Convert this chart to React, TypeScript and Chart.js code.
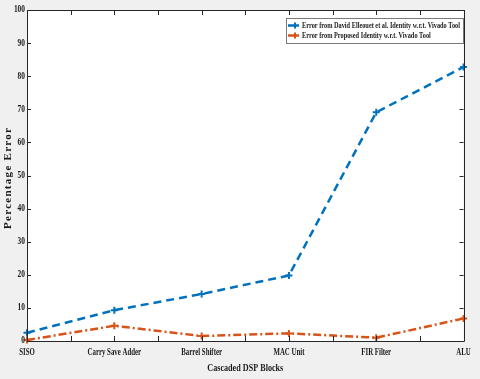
import React, { useEffect, useRef } from "react";
import { Chart, registerables } from "chart.js";

Chart.register(...registerables);

const categories = ["SISO", "Carry Save Adder", "Barrel Shifter", "MAC Unit", "FIR Filter", "ALU"];
const elleouetError = [2.5, 9.3, 14.2, 19.8, 69.1, 82.8];
const proposedError = [0.3, 4.6, 1.5, 2.3, 1.0, 6.8];
const seriesNames = [
  "Error from David Elleouet et al. Identity w.r.t. Vivado Tool",
  "Error from Proposed Identity w.r.t. Vivado Tool",
];
const xTitle = "Cascaded DSP Blocks";
const yTitle = "Percentage Error";

const BLUE = "#0072BD";
const ORANGE = "#D95319";
const FONT = "'Liberation Serif', 'Times New Roman', serif";
const TEXT = "#1a1a1a";

function condensedText(ctx: any, text: string, x: number, y: number, sx: number, align: string) {
  ctx.save();
  ctx.translate(x, y);
  ctx.scale(sx, 1);
  ctx.textAlign = align;
  ctx.textBaseline = "middle";
  ctx.fillText(text, 0, 0);
  ctx.restore();
}

const framePlugin = {
  id: "matlabFrame",
  beforeDraw(chart: any) {
    const { ctx, chartArea: a, width, height } = chart;
    ctx.save();
    ctx.fillStyle = "#f0f0f0";
    ctx.fillRect(0, 0, width, height);
    ctx.fillStyle = "#ffffff";
    ctx.fillRect(a.left, a.top, a.right - a.left, a.bottom - a.top);
    ctx.restore();
  },
  afterDraw(chart: any) {
    const { ctx, chartArea: a } = chart;
    const xs = chart.scales.x;
    const ys = chart.scales.y;
    ctx.save();
    ctx.strokeStyle = "#262626";
    ctx.lineWidth = 1;
    ctx.beginPath();
    ctx.rect(Math.round(a.left) + 0.5, Math.round(a.top) + 0.5, Math.round(a.right - a.left), Math.round(a.bottom - a.top));
    ctx.stroke();
    // inward ticks
    ctx.beginPath();
    xs.ticks.forEach((t: any) => {
      const px = Math.round(xs.getPixelForValue(t.value)) + 0.5;
      ctx.moveTo(px, a.bottom);
      ctx.lineTo(px, a.bottom - 5);
      ctx.moveTo(px, a.top);
      ctx.lineTo(px, a.top + 5);
    });
    ys.ticks.forEach((t: any) => {
      const py = Math.round(ys.getPixelForValue(t.value)) + 0.5;
      ctx.moveTo(a.left, py);
      ctx.lineTo(a.left + 4, py);
      ctx.moveTo(a.right, py);
      ctx.lineTo(a.right - 4, py);
    });
    ctx.stroke();

    // tick labels (MATLAB-like condensed bold serif)
    ctx.fillStyle = TEXT;
    ctx.font = `bold 9.5px ${FONT}`;
    xs.ticks.forEach((t: any) => {
      if (!Number.isInteger(t.value)) return;
      condensedText(ctx, categories[t.value], xs.getPixelForValue(t.value), a.bottom + 12, 0.72, "center");
    });
    ctx.font = `bold 9.5px ${FONT}`;
    ys.ticks.forEach((t: any) => {
      condensedText(ctx, String(t.value), a.left - 2, ys.getPixelForValue(t.value), 0.78, "right");
    });

    // axis titles
    ctx.font = `bold 10.5px ${FONT}`;
    ctx.textAlign = "center";
    ctx.textBaseline = "middle";
    ctx.fillText(xTitle, (a.left + a.right) / 2, 368, 76);

    ctx.save();
    ctx.translate(8, 178.5);
    ctx.rotate(-Math.PI / 2);
    ctx.font = `bold 11px ${FONT}`;
    const w = ctx.measureText(yTitle).width;
    const sp = Math.max(0, (101 - w) / (yTitle.length - 1));
    (ctx as any).letterSpacing = `${sp}px`;
    ctx.fillText(yTitle, sp / 2, 0);
    ctx.restore();

    // legend
    const lx = 286, ly = 18, lw = 177, lh = 25;
    ctx.fillStyle = "#ffffff";
    ctx.fillRect(lx, ly, lw, lh);
    ctx.strokeStyle = "#7a7a7a";
    ctx.lineWidth = 1;
    ctx.strokeRect(lx + 0.5, ly + 0.5, lw, lh);
    const rows = [
      { name: seriesNames[0], color: BLUE, y: 25.5 },
      { name: seriesNames[1], color: ORANGE, y: 35.5 },
    ];
    ctx.font = `bold 8.5px ${FONT}`;
    const w0 = ctx.measureText(seriesNames[0]).width;
    const s = 158 / w0;
    rows.forEach((r) => {
      ctx.strokeStyle = r.color;
      ctx.lineWidth = 2.5;
      ctx.beginPath();
      ctx.moveTo(288, r.y);
      ctx.lineTo(299, r.y);
      ctx.stroke();
      ctx.lineWidth = 2;
      ctx.beginPath();
      ctx.moveTo(295, r.y - 3);
      ctx.lineTo(295, r.y + 3);
      ctx.stroke();
      ctx.fillStyle = TEXT;
      condensedText(ctx, r.name, 302, r.y, s, "left");
    });
    ctx.restore();
  },
};

export default function App() {
  const ref = useRef<HTMLCanvasElement | null>(null);
  useEffect(() => {
    if (!ref.current) return;
    const chart = new Chart(ref.current, {
      type: "line",
      data: {
        datasets: [
          {
            label: seriesNames[0],
            data: elleouetError.map((v, i) => ({ x: i, y: v })),
            borderColor: BLUE,
            backgroundColor: BLUE,
            borderWidth: 2.5,
            borderDash: [8, 5],
            pointStyle: "cross",
            pointRadius: 3.5,
            pointBorderWidth: 2,
            tension: 0,
            clip: false as any,
          },
          {
            label: seriesNames[1],
            data: proposedError.map((v, i) => ({ x: i, y: v })),
            borderColor: ORANGE,
            backgroundColor: ORANGE,
            borderWidth: 2.5,
            borderDash: [8, 3, 2, 3],
            pointStyle: "cross",
            pointRadius: 3.5,
            pointBorderWidth: 2,
            tension: 0,
            clip: false as any,
          },
        ],
      },
      options: {
        animation: false,
        responsive: false,
        maintainAspectRatio: false,
        layout: { padding: { top: 10, right: 11, left: 0, bottom: 0 } },
        plugins: { legend: { display: false }, tooltip: { enabled: false } },
        scales: {
          x: {
            type: "linear",
            min: 0,
            max: categories.length - 1,
            grid: { display: false, drawTicks: false },
            border: { display: false },
            ticks: {
              stepSize: 0.5,
              autoSkip: false,
              maxRotation: 0,
              padding: 8,
              color: "rgba(0,0,0,0)",
              font: { family: FONT, size: 8, weight: "bold" },
              callback: (v: any) => (Number.isInteger(v) ? categories[v] : ""),
            },
            afterFit: (s: any) => {
              s.height = 38;
            },
          },
          y: {
            min: 0,
            max: 100,
            grid: { display: false, drawTicks: false },
            border: { display: false },
            ticks: {
              stepSize: 10,
              padding: 3,
              color: "rgba(0,0,0,0)",
              font: { family: FONT, size: 8.5, weight: "bold" },
            },
            afterFit: (s: any) => {
              s.width = 27;
            },
          },
        },
      },
      plugins: [framePlugin],
    });
    return () => chart.destroy();
  }, []);
  return (
    <div style={{ position: "fixed", left: 0, top: 0, width: 480, height: 379 }}>
      <canvas ref={ref} width={480} height={379} style={{ width: 480, height: 379, display: "block" }} />
    </div>
  );
}
